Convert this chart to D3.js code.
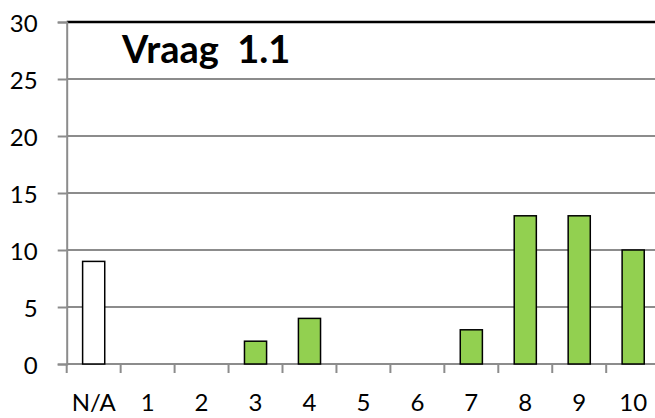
<!DOCTYPE html>
<html>
<head>
<meta charset="utf-8">
<script src="https://cdn.jsdelivr.net/npm/d3@7"></script>
<style>
  body { margin: 0; background: #fff; }
  svg { display: block; font-family: Lato, "Open Sans", sans-serif; }
</style>
</head>
<body>
<div id="chart"></div>
<script>
const categories = ["N/A", "1", "2", "3", "4", "5", "6", "7", "8", "9", "10"];
const counts = [9, 0, 0, 2, 4, 0, 0, 3, 13, 13, 10];
const yTicks = [0, 5, 10, 15, 20, 25, 30];
const title = "Vraag  1.1";

const width = 655;
const height = 418;
const marginTop = 22;
const marginLeft = 66.7;
const step = 53.95;
const y0 = 364;

const data = categories.map((c, i) => ({ cat: c, value: counts[i] }));

const x = d3.scaleBand()
    .domain(categories)
    .range([marginLeft, marginLeft + step * categories.length])
    .paddingInner(0.59)
    .paddingOuter(0.295);

const y = d3.scaleLinear()
    .domain([0, 30])
    .range([y0, marginTop]);

const svg = d3.select("#chart").append("svg")
    .attr("width", width)
    .attr("height", height)
    .attr("viewBox", [0, 0, width, height]);

// gridlines
svg.append("g")
    .selectAll("line")
    .data(yTicks.filter(d => d > 0 && d < 30))
    .join("line")
    .attr("x1", marginLeft)
    .attr("x2", width)
    .attr("y1", d => y(d))
    .attr("y2", d => y(d))
    .attr("stroke", "#8c8c8c")
    .attr("stroke-width", 2);

// top border line
svg.append("line")
    .attr("x1", marginLeft)
    .attr("x2", width)
    .attr("y1", y(30))
    .attr("y2", y(30))
    .attr("stroke", "#000")
    .attr("stroke-width", 2.5);

// y axis
svg.append("g")
    .attr("transform", `translate(${marginLeft},0)`)
    .call(d3.axisLeft(y).tickValues(yTicks).tickSize(9).tickPadding(20))
    .call(g => g.select(".domain").attr("stroke", "#8c8c8c").attr("stroke-width", 2))
    .call(g => g.selectAll(".tick line").attr("stroke", "#8c8c8c").attr("stroke-width", 2))
    .call(g => g.selectAll(".tick text")
        .attr("fill", "#000")
        .attr("font-size", 24)
        .attr("dy", "0.4em")
        .attr("font-family", "Lato, sans-serif"));

// x axis
const xAxis = svg.append("g")
    .attr("transform", `translate(0,${y0})`);

xAxis.append("line")
    .attr("x1", marginLeft)
    .attr("x2", width)
    .attr("stroke", "#8c8c8c")
    .attr("stroke-width", 2);

xAxis.selectAll("line.tick")
    .data(d3.range(categories.length + 1))
    .join("line")
    .attr("class", "tick")
    .attr("x1", i => marginLeft + i * x.step())
    .attr("x2", i => marginLeft + i * x.step())
    .attr("y1", 0)
    .attr("y2", 9)
    .attr("stroke", "#8c8c8c")
    .attr("stroke-width", 2);

xAxis.selectAll("text")
    .data(categories)
    .join("text")
    .attr("x", d => x(d) + x.bandwidth() / 2)
    .attr("y", 47)
    .attr("text-anchor", "middle")
    .attr("font-size", 24)
    .attr("fill", "#000")
    .text(d => d);

// bars
svg.append("g")
    .selectAll("rect")
    .data(data.filter(d => d.value > 0))
    .join("rect")
    .attr("x", d => x(d.cat))
    .attr("y", d => y(d.value))
    .attr("width", x.bandwidth())
    .attr("height", d => y(0) - y(d.value))
    .attr("fill", d => d.cat === "N/A" ? "#ffffff" : "#92d050")
    .attr("stroke", "#000")
    .attr("stroke-width", 1.5);

// title
svg.append("text")
    .attr("x", 122)
    .attr("y", 63)
    .attr("font-size", 38)
    .attr("font-weight", "bold")
    .attr("fill", "#000")
    .style("white-space", "pre")
    .text(title);
</script>
</body>
</html>
